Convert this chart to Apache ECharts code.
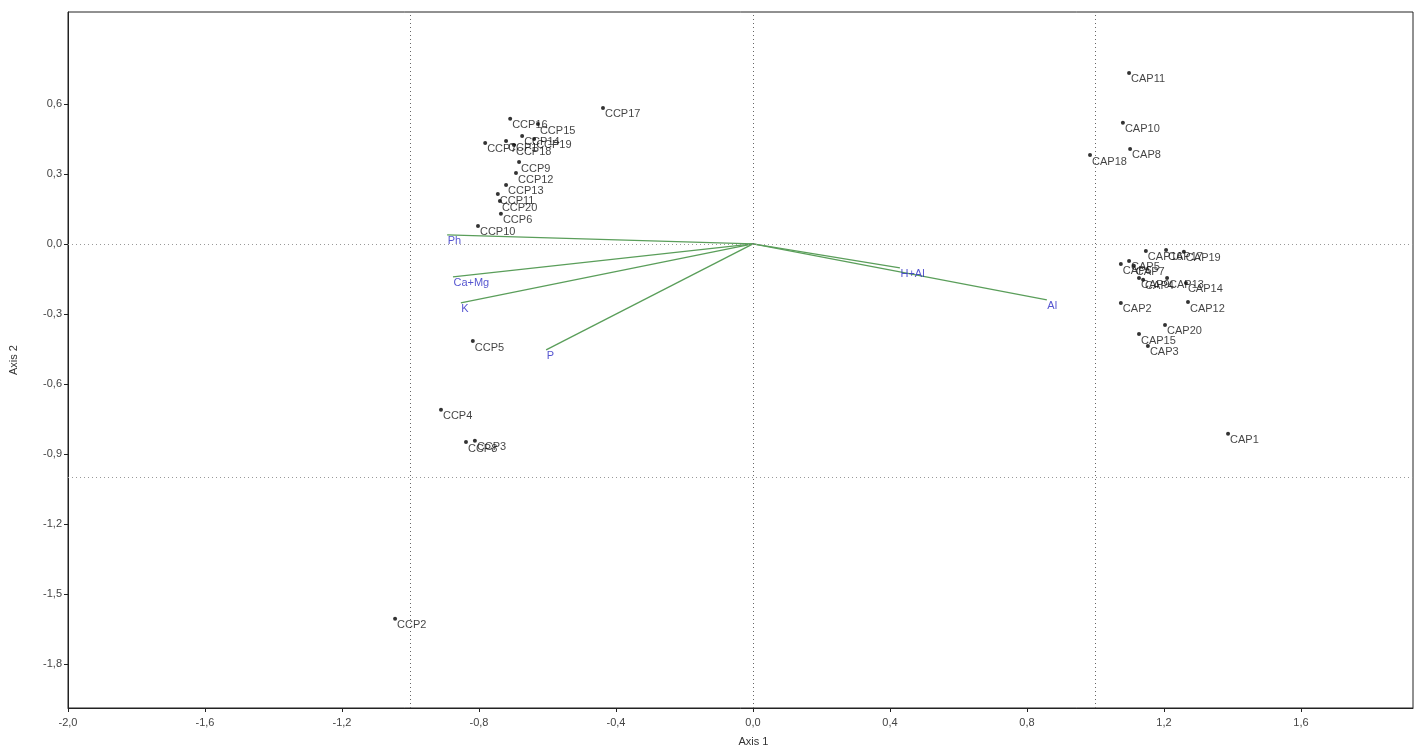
<!DOCTYPE html>
<html>
<head>
<meta charset="utf-8">
<script src="https://cdn.jsdelivr.net/npm/echarts@6/dist/echarts.min.js"></script>
<style>
  html, body { margin: 0; padding: 0; background: #fff; }
  #chart { width: 1414px; height: 747px; }
</style>
</head>
<body>
<div id="chart"></div>
<script>
// Site scores, CCP group
const ccpNames = ['CCP17','CCP16','CCP15','CCP14','CCP19','CCP1','CCP18','CCP7','CCP9','CCP12',
                  'CCP13','CCP11','CCP20','CCP6','CCP10','CCP5','CCP4','CCP8','CCP3','CCP2'];
const ccpX = [-0.438,-0.709,-0.628,-0.674,-0.639,-0.721,-0.698,-0.782,-0.683,-0.692,
              -0.721,-0.745,-0.739,-0.736,-0.803,-0.818,-0.911,-0.838,-0.812,-1.045];
const ccpY = [0.583,0.536,0.514,0.463,0.450,0.441,0.424,0.433,0.351,0.304,
              0.253,0.214,0.184,0.129,0.077,-0.416,-0.711,-0.849,-0.844,-1.607];

// Site scores, CAP group
const capNames = ['CAP11','CAP10','CAP8','CAP18','CAP16','CAP17','CAP19','CAP6','CAP5','CAP7',
                  'CAP9','CAP4','CAP13','CAP14','CAP2','CAP12','CAP20','CAP15','CAP3','CAP1'];
const capX = [1.098,1.080,1.101,0.984,1.147,1.206,1.258,1.074,1.098,1.112,
              1.127,1.139,1.209,1.264,1.074,1.270,1.203,1.127,1.153,1.387];
const capY = [0.733,0.519,0.407,0.381,-0.030,-0.026,-0.034,-0.086,-0.073,-0.094,
              -0.146,-0.154,-0.146,-0.167,-0.253,-0.249,-0.347,-0.386,-0.437,-0.814];

// Soil variable vectors
const varNames = ['Ph','Ca+Mg','K','P','H+Al','Al'];
const varX = [-0.893,-0.876,-0.853,-0.604,0.429,0.858];
const varY = [0.039,-0.141,-0.253,-0.454,-0.103,-0.240];

// Axis ticks
const xTicks = [-2.0,-1.6,-1.2,-0.8,-0.4,0.0,0.4,0.8,1.2,1.6];
const yTicks = [-1.8,-1.5,-1.2,-0.9,-0.6,-0.3,0.0,0.3,0.6];

const FONT = 'Liberation Sans, Arial, sans-serif';
const fmt = v => v.toFixed(1).replace('.', ',');

const sitePoints = [];
ccpNames.forEach((n, i) => sitePoints.push({ name: n, value: [ccpX[i], ccpY[i]] }));
capNames.forEach((n, i) => sitePoints.push({ name: n, value: [capX[i], capY[i]] }));

const vectorSeries = varNames.map((n, i) => ({
  type: 'line',
  data: [[0, 0], [varX[i], varY[i]]],
  showSymbol: false,
  symbol: 'none',
  silent: true,
  lineStyle: { color: '#5a9e5a', width: 1.3 },
  z: 3
}));

const vectorLabels = {
  type: 'scatter',
  data: varNames.map((n, i) => ({ name: n, value: [varX[i], varY[i]] })),
  symbolSize: 1,
  itemStyle: { color: 'rgba(0,0,0,0)' },
  label: {
    show: true,
    formatter: p => p.name,
    position: [1, 1],
    color: '#2a2ac4',
    fontFamily: FONT,
    fontSize: 11,
    align: 'left',
    verticalAlign: 'top'
  },
  silent: true,
  z: 4
};

// dotted reference lines at the axis origins and at ±1
const refLine = color => ({ color: color, type: [1, 3], width: 1 });

const option = {
  animation: false,
  backgroundColor: '#fff',
  grid: {
    left: 68, right: 1, top: 12, bottom: 39,
    outerBoundsMode: 'none',
    containLabel: false,
    show: true, borderColor: '#222', borderWidth: 1
  },
  xAxis: {
    type: 'value',
    min: -2.0, max: 1.927,
    name: 'Axis 1',
    nameLocation: 'middle',
    nameGap: 28,
    nameTextStyle: { fontFamily: FONT, fontSize: 11, color: '#333', padding: [0, 0, 0, 26] },
    axisLine: { show: true, onZero: false, lineStyle: { color: '#222', width: 1 } },
    axisTick: { show: true, length: 4, customValues: xTicks, lineStyle: { color: '#222' } },
    axisLabel: { customValues: xTicks, formatter: fmt, fontFamily: FONT, fontSize: 11, color: '#444', margin: 9 },
    splitLine: { show: false }
  },
  yAxis: {
    type: 'value',
    min: -1.989, max: 0.994,
    name: 'Axis 2',
    nameLocation: 'middle',
    nameGap: 49,
    nameRotate: 90,
    nameTextStyle: { fontFamily: FONT, fontSize: 11, color: '#333' },
    axisLine: { show: true, onZero: false, lineStyle: { color: '#222', width: 1 } },
    axisTick: { show: true, length: 4, customValues: yTicks, lineStyle: { color: '#222' } },
    axisLabel: { customValues: yTicks, formatter: fmt, fontFamily: FONT, fontSize: 11, color: '#444', margin: 6 },
    splitLine: { show: false }
  },
  series: [
    {
      type: 'scatter',
      data: [],
      silent: true,
      markLine: {
        silent: true,
        symbol: 'none',
        label: { show: false },
        data: [
          { xAxis: -1, lineStyle: refLine('#666') },
          { xAxis: 0, lineStyle: refLine('#666') },
          { xAxis: 1, lineStyle: refLine('#666') },
          { yAxis: 0, lineStyle: refLine('#999') },
          { yAxis: -1, lineStyle: refLine('#999') }
        ]
      },
      z: 1
    },
    ...vectorSeries,
    vectorLabels,
    {
      type: 'scatter',
      data: sitePoints,
      symbol: 'circle',
      symbolSize: 4,
      itemStyle: { color: '#000' },
      label: {
        show: true,
        formatter: p => p.name,
        position: [4, 3],
        color: '#111',
        fontFamily: FONT,
        fontSize: 11,
        align: 'left',
        verticalAlign: 'top'
      },
      labelLayout: { hideOverlap: false },
      silent: true,
      z: 5
    }
  ]
};

const chart = echarts.init(document.getElementById('chart'), null, { renderer: 'canvas' });
chart.setOption(option);
</script>
</body>
</html>
